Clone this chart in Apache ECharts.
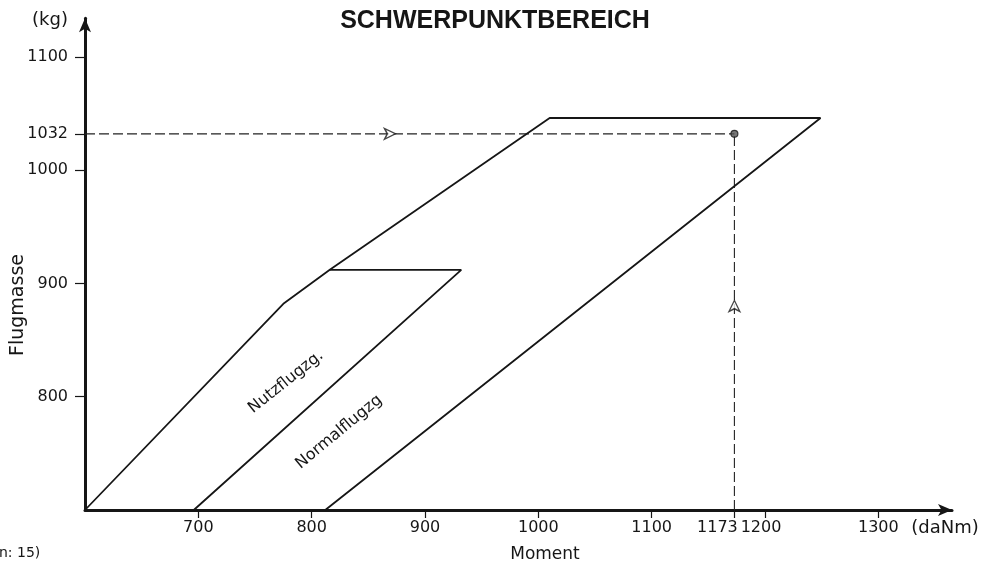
<!DOCTYPE html>
<html>
<head>
<meta charset="utf-8">
<script src="https://cdn.jsdelivr.net/npm/echarts@6/dist/echarts.min.js"></script>
<style>
html,body{margin:0;padding:0;background:#fff;}
#chart{width:987px;height:564px;}
</style>
</head>
<body>
<div id="chart"></div>
<script>
// ---- data ----
const envelopeMoment = [600, 775, 816, 1010, 1249, 812];
const envelopeMass   = [700, 882, 912, 1046, 1046, 700];
const utilityMoment  = [816, 932, 696];
const utilityMass    = [912, 912, 700];
const exampleMoment = 1173;
const exampleMass = 1032;
const massArrowAt = 874;    // moment where the horizontal arrowhead sits
const momentArrowAt = 885;  // mass where the vertical arrowhead sits
const xTickValues = [700, 800, 900, 1000, 1100, 1173, 1200, 1300];
const yTickValues = [800, 900, 1000, 1032, 1100];
const xMin = 600, xMax = 1365, yMin = 700, yMax = 1134;

const ink = '#161616';
const labelFont = 'DejaVu Sans';

function zip(a, b) { return a.map((v, i) => [v, b[i]]); }

const chart = echarts.init(document.getElementById('chart'), null, {renderer: 'canvas'});
chart.setOption({
  animation: false,
  backgroundColor: '#fff',
  grid: {left: 85, top: 18.3, width: 867, height: 491.7, containLabel: false},
  xAxis: {
    type: 'value', min: xMin, max: xMax,
    splitLine: {show: false},
    axisLine: {show: true, symbol: ['none', 'arrow'], symbolSize: [9, 14], lineStyle: {color: ink, width: 3}},
    axisTick: {show: true, customValues: xTickValues, length: 8, lineStyle: {color: ink, width: 1.2}},
    axisLabel: {
      show: true, customValues: xTickValues, margin: 10, color: ink, fontSize: 16, fontFamily: labelFont,
      formatter: function (v) {
        if (v === 1173) return '{l|1173}';
        if (v === 1200) return '{m|1200}';
        return String(v);
      },
      rich: {
        l: {padding: [0, 34, 0, 0], fontSize: 16, fontFamily: labelFont, color: ink},
        m: {padding: [0, 8, 0, 0], fontSize: 16, fontFamily: labelFont, color: ink}
      }
    }
  },
  yAxis: {
    type: 'value', min: yMin, max: yMax,
    splitLine: {show: false},
    axisLine: {show: true, symbol: ['none', 'arrow'], symbolSize: [9, 14], lineStyle: {color: ink, width: 3}},
    axisTick: {show: true, customValues: yTickValues, length: 10, lineStyle: {color: ink, width: 1.2}},
    axisLabel: {show: true, customValues: yTickValues, margin: 17, color: ink, fontSize: 16, fontFamily: labelFont,
      formatter: function (v) { return String(v); }}
  },
  series: [
    {
      type: 'line', data: zip(envelopeMoment, envelopeMass), symbol: 'none',
      lineStyle: {color: ink, width: 1.8}, z: 3
    },
    {
      type: 'line', data: zip(utilityMoment, utilityMass), symbol: 'none',
      lineStyle: {color: ink, width: 1.8}, z: 3
    },
    {
      type: 'line', data: [[xMin, exampleMass], [exampleMoment, exampleMass]], symbol: 'none',
      lineStyle: {color: '#222', width: 1.1, type: [10, 4]}, z: 2
    },
    {
      type: 'line', data: [[exampleMoment, yMin], [exampleMoment, exampleMass]], symbol: 'none',
      lineStyle: {color: '#222', width: 1.1, type: [10, 4]}, z: 2
    },
    {
      type: 'scatter', data: [[massArrowAt, exampleMass]], symbol: 'arrow', symbolSize: [8, 11], symbolRotate: -90,
      itemStyle: {color: '#fff', borderColor: ink, borderWidth: 1.4}, z: 4
    },
    {
      type: 'scatter', data: [[exampleMoment, momentArrowAt]], symbol: 'arrow', symbolSize: [8, 11], symbolRotate: 0,
      itemStyle: {color: '#fff', borderColor: ink, borderWidth: 1.4}, z: 4
    },
    {
      type: 'scatter', data: [[exampleMoment, exampleMass]], symbol: 'circle', symbolSize: 7,
      itemStyle: {color: '#555', borderColor: ink, borderWidth: 1.2}, z: 5
    }
  ],
  graphic: [
    {type: 'text', x: 495, y: 21, style: {text: 'SCHWERPUNKTBEREICH', textAlign: 'center', textVerticalAlign: 'middle', fill: ink, font: 'bold 25px "Liberation Sans", Arial, sans-serif'}},
    {type: 'text', x: 50, y: 20, style: {text: '(kg)', textAlign: 'center', textVerticalAlign: 'middle', fill: ink, font: '18px "DejaVu Sans", sans-serif'}},
    {type: 'text', x: 18, y: 305, rotation: Math.PI / 2, style: {text: 'Flugmasse', textAlign: 'center', textVerticalAlign: 'middle', fill: ink, font: '19px "DejaVu Sans", sans-serif'}},
    {type: 'text', x: 545, y: 555, style: {text: 'Moment', textAlign: 'center', textVerticalAlign: 'middle', fill: ink, font: '17px "DejaVu Sans", sans-serif'}},
    {type: 'text', x: 945, y: 528, style: {text: '(daNm)', textAlign: 'center', textVerticalAlign: 'middle', fill: ink, font: '18px "DejaVu Sans", sans-serif'}},
    {type: 'text', x: 286, y: 382, rotation: 0.674, style: {text: 'Nutzflugzg.', textAlign: 'center', textVerticalAlign: 'middle', fill: ink, font: '16px "DejaVu Sans", sans-serif'}},
    {type: 'text', x: 339, y: 432, rotation: 0.69, style: {text: 'Normalflugzg', textAlign: 'center', textVerticalAlign: 'middle', fill: ink, font: '16px "DejaVu Sans", sans-serif'}},
    {type: 'text', x: -1, y: 553, style: {text: 'n: 15)', textAlign: 'left', textVerticalAlign: 'middle', fill: ink, font: '14px "DejaVu Sans", sans-serif'}}
  ]
});
</script>
</body>
</html>
